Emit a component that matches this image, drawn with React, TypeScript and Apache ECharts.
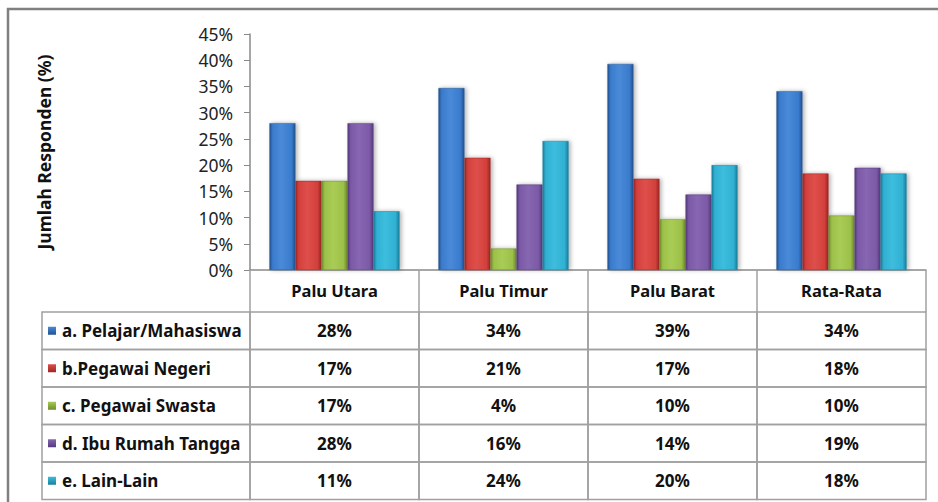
import React, { useEffect, useRef } from "react";
import * as echarts from "echarts";

const categories = ["Palu Utara", "Palu Timur", "Palu Barat", "Rata-Rata"];
const seriesNames = [
  "a. Pelajar/Mahasiswa",
  "b.Pegawai Negeri",
  "c. Pegawai Swasta",
  "d. Ibu Rumah Tangga",
  "e. Lain-Lain",
];
const pelajar = [28.0, 34.7, 39.3, 34.1];
const pegawaiNegeri = [17.0, 21.4, 17.4, 18.4];
const pegawaiSwasta = [17.0, 4.1, 9.7, 10.4];
const ibuRumahTangga = [28.0, 16.3, 14.4, 19.5];
const lainLain = [11.2, 24.6, 20.0, 18.4];

const tablePelajar = ["28%", "34%", "39%", "34%"];
const tablePegawaiNegeri = ["17%", "21%", "17%", "18%"];
const tablePegawaiSwasta = ["17%", "4%", "10%", "10%"];
const tableIbuRumahTangga = ["28%", "16%", "14%", "19%"];
const tableLainLain = ["11%", "24%", "20%", "18%"];

const yMin = 0;
const yMax = 45;
const yInterval = 5;
const yTitle = "Jumlah Responden (%)";

const seriesValues = [pelajar, pegawaiNegeri, pegawaiSwasta, ibuRumahTangga, lainLain];
const tableRows = [tablePelajar, tablePegawaiNegeri, tablePegawaiSwasta, tableIbuRumahTangga, tableLainLain];

// [edge, mid, light]
const palette = [
  ["#23528f", "#3a7bcd", "#4a8ad8"],
  ["#9b2724", "#d3403c", "#de4f4a"],
  ["#6f8c2c", "#9cc049", "#a9cc55"],
  ["#553a7b", "#7b59a6", "#8766b2"],
  ["#1b7f9b", "#30b1d3", "#3dbddd"],
];

const FONT = "'Noto Sans', 'DejaVu Sans', sans-serif";

// layout (pixels)
const GRID_LEFT = 250;
const GRID_RIGHT_EDGE = 926;
const GRID_TOP = 34;
const AXIS_Y = 270;
const HEADER_H = 42;
const ROW_H = 37.5;
const TABLE_LEFT = 42;

export default function App() {
  const ref = useRef<HTMLDivElement>(null);

  useEffect(() => {
    if (!ref.current) return;
    const chart = echarts.init(ref.current, null, { renderer: "svg" });
    const W = 938;
    const H = 502;
    const colW = (GRID_RIGHT_EDGE - GRID_LEFT) / categories.length;
    const labelColUnits = (GRID_LEFT - TABLE_LEFT) / colW;
    const tableTop = AXIS_Y + HEADER_H;
    const tableH = ROW_H * seriesNames.length;

    const tableData: number[][] = [];
    for (let r = 0; r < seriesNames.length; r++) {
      for (let c = -1; c < categories.length; c++) {
        tableData.push([c, r]);
      }
    }

    const barSeries = seriesValues.map((vals, i) => ({
      type: "bar",
      name: seriesNames[i],
      xAxisIndex: 0,
      yAxisIndex: 0,
      data: vals,
      barGap: "0%",
      barCategoryGap: "23%",
      itemStyle: {
        color: new echarts.graphic.LinearGradient(0, 0, 1, 0, [
          { offset: 0, color: palette[i][0] },
          { offset: 0.12, color: palette[i][1] },
          { offset: 0.45, color: palette[i][2] },
          { offset: 0.85, color: palette[i][1] },
          { offset: 1, color: palette[i][0] },
        ]),
        borderColor: palette[i][0],
        borderWidth: 0.5,
        shadowColor: "rgba(0,0,0,0.3)",
        shadowBlur: 4,
        shadowOffsetX: 2,
        shadowOffsetY: 0,
      },
    }));

    const option: any = {
      animation: false,
      backgroundColor: "#ffffff",
      grid: [
        {
          left: GRID_LEFT,
          right: W - GRID_RIGHT_EDGE,
          top: GRID_TOP,
          height: AXIS_Y - GRID_TOP,
        },
        {
          left: TABLE_LEFT,
          right: W - GRID_RIGHT_EDGE,
          top: tableTop,
          height: tableH,
        },
      ],
      xAxis: [
        {
          type: "category",
          gridIndex: 0,
          data: categories,
          axisLine: { lineStyle: { color: "#8a8a8a", width: 1.5 } },
          axisTick: {
            show: true,
            inside: false,
            length: HEADER_H,
            interval: 0,
            lineStyle: { color: "#a0a0a0", width: 1.5 },
          },
          axisLabel: {
            margin: 12,
            color: "#111",
            fontFamily: FONT,
            fontWeight: "bold",
            fontSize: 16.5,
          },
        },
        {
          type: "value",
          gridIndex: 1,
          min: -labelColUnits,
          max: categories.length,
          show: false,
        },
      ],
      yAxis: [
        {
          type: "value",
          gridIndex: 0,
          min: yMin,
          max: yMax,
          interval: yInterval,
          name: yTitle,
          nameLocation: "middle",
          nameGap: GRID_LEFT - 53,
          nameRotate: 90,
          nameTextStyle: {
            color: "#111",
            fontFamily: FONT,
            fontWeight: "bold",
            fontSize: 17.5,
          },
          axisLine: { show: true, lineStyle: { color: "#8a8a8a", width: 1.5 } },
          axisTick: { show: true, length: 6, lineStyle: { color: "#8a8a8a" } },
          splitLine: { show: false },
          axisLabel: {
            formatter: "{value}%",
            margin: 17,
            color: "#222",
            fontFamily: FONT,
            fontSize: 17.5,
          },
        },
        {
          type: "value",
          gridIndex: 1,
          min: 0,
          max: seriesNames.length,
          inverse: true,
          show: false,
        },
      ],
      series: [
        ...barSeries,
        {
          type: "custom",
          xAxisIndex: 1,
          yAxisIndex: 1,
          data: tableData,
          silent: true,
          renderItem: (params: any, api: any) => {
            const c = api.value(0);
            const r = api.value(1);
            const x0 = c < 0 ? -labelColUnits : c;
            const x1 = c < 0 ? 0 : c + 1;
            const p0 = api.coord([x0, r]);
            const p1 = api.coord([x1, r + 1]);
            const children: any[] = [
              {
                type: "rect",
                shape: { x: p0[0], y: p0[1], width: p1[0] - p0[0], height: p1[1] - p0[1] },
                style: { fill: "none", stroke: "#a0a0a0", lineWidth: 1.5 },
              },
            ];
            const cy = (p0[1] + p1[1]) / 2;
            if (c < 0) {
              const col = palette[r];
              children.push({
                type: "rect",
                shape: { x: p0[0] + 6, y: cy - 4, width: 8, height: 8 },
                style: {
                  fill: new echarts.graphic.LinearGradient(0, 0, 0, 1, [
                    { offset: 0, color: col[2] },
                    { offset: 1, color: col[0] },
                  ]),
                },
              });
              children.push({
                type: "text",
                style: {
                  text: seriesNames[r],
                  x: p0[0] + 20,
                  y: cy,
                  align: "left",
                  verticalAlign: "middle",
                  fill: "#111",
                  fontFamily: FONT,
                  fontWeight: "bold",
                  fontSize: 17,
                },
              });
            } else {
              children.push({
                type: "text",
                style: {
                  text: tableRows[r][c],
                  x: (p0[0] + p1[0]) / 2,
                  y: cy,
                  align: "center",
                  verticalAlign: "middle",
                  fill: "#111",
                  fontFamily: FONT,
                  fontWeight: "bold",
                  fontSize: 17,
                },
              });
            }
            return { type: "group", children };
          },
        },
      ],
      graphic: [
        {
          type: "line",
          shape: { x1: 7, y1: 9, x2: W, y2: 9 },
          style: { stroke: "#808080", lineWidth: 2.5 },
        },
        {
          type: "line",
          shape: { x1: 8, y1: 8, x2: 8, y2: H },
          style: { stroke: "#808080", lineWidth: 2.5 },
        },
      ],
    };

    chart.setOption(option);
    return () => chart.dispose();
  }, []);

  return (
    <div
      ref={ref}
      style={{ position: "absolute", left: 0, top: 0, width: 938, height: 502 }}
    />
  );
}
